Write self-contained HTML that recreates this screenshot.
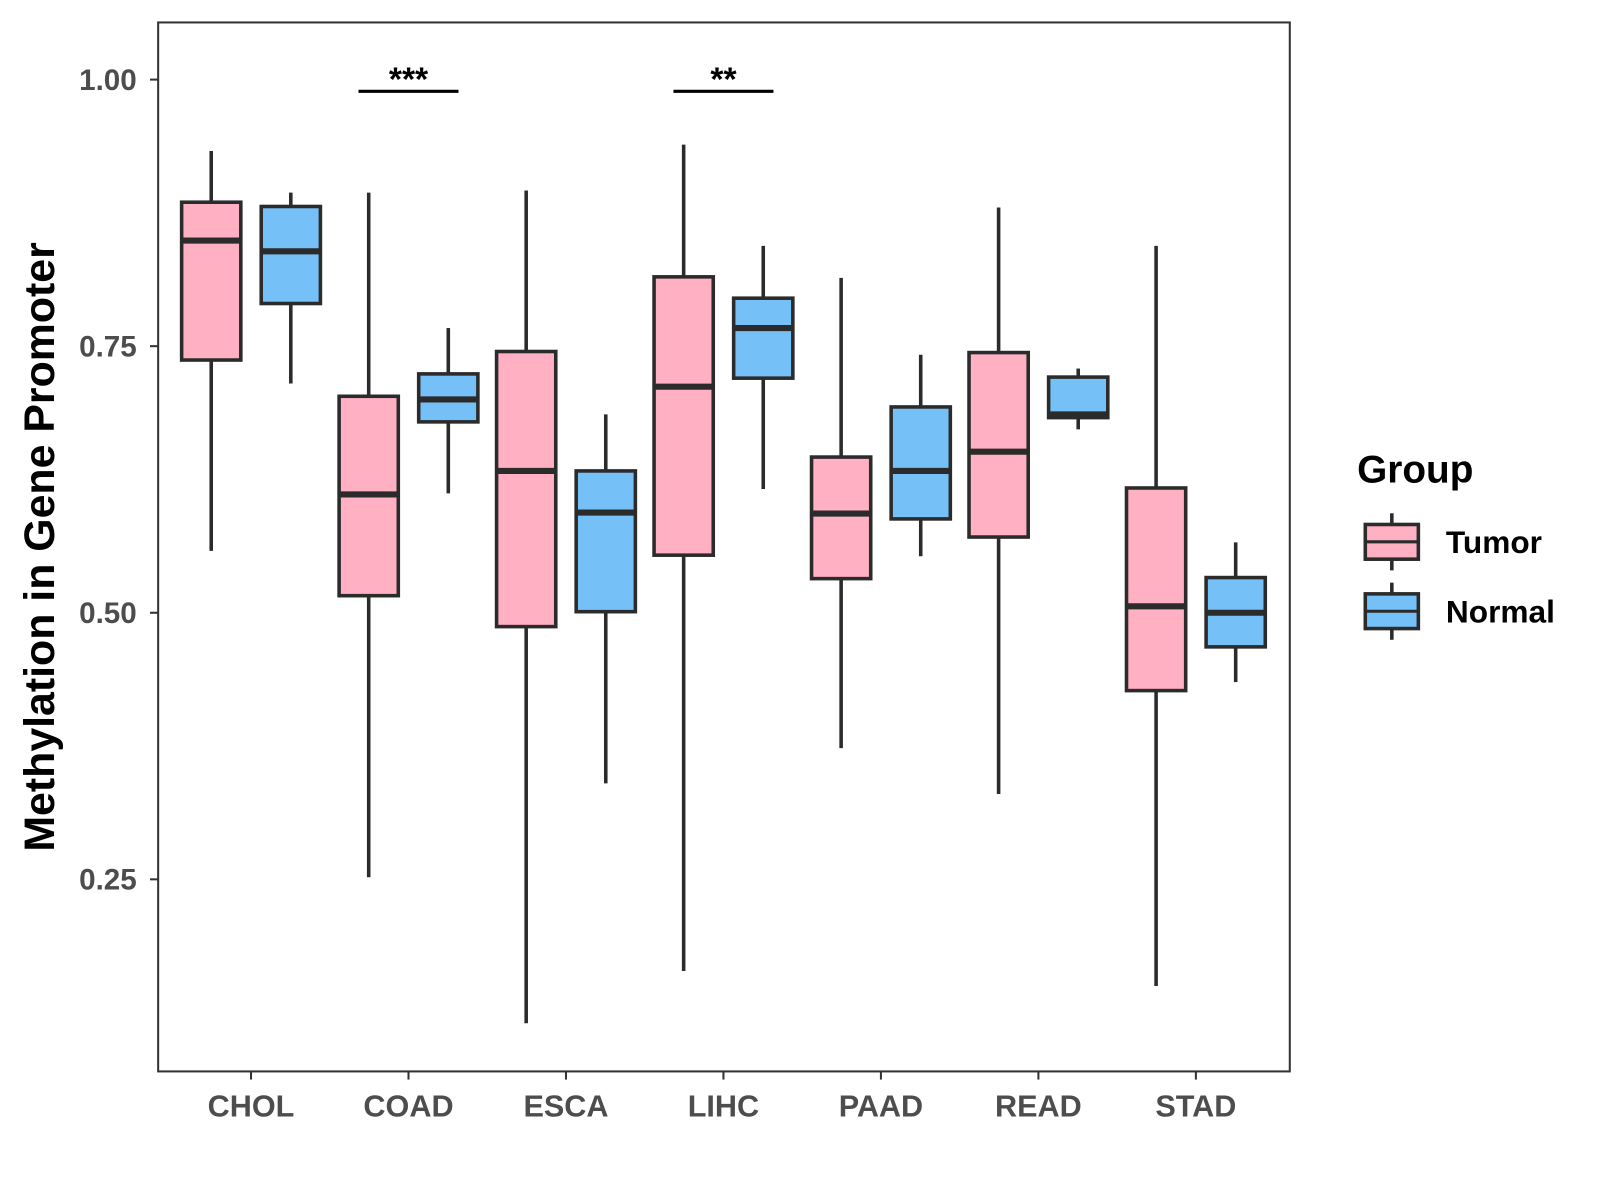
<!DOCTYPE html>
<html><head><meta charset="utf-8"><style>
html,body{margin:0;padding:0;background:#fff;width:1600px;height:1200px;overflow:hidden}
svg{display:block}
text{font-family:"Liberation Sans",Arial,sans-serif;font-weight:bold}
</style></head><body>
<svg id="chart" width="1600" height="1200"><g id="root" transform="scale(1.0204)"></g></svg>
<script>
const categories=["CHOL","COAD","ESCA","LIHC","PAAD","READ","STAD"];
const tumorLow=[0.558,0.252,0.115,0.164,0.373,0.330,0.150];
const tumorQ1=[0.737,0.516,0.487,0.554,0.532,0.571,0.427];
const tumorMed=[0.849,0.611,0.633,0.712,0.593,0.651,0.506];
const tumorQ3=[0.885,0.703,0.745,0.815,0.646,0.744,0.617];
const tumorHigh=[0.933,0.894,0.896,0.939,0.814,0.880,0.844];
const normalLow=[0.715,0.612,0.340,0.616,0.553,0.672,0.435];
const normalQ1=[0.790,0.679,0.501,0.720,0.588,0.683,0.468];
const normalMed=[0.839,0.700,0.594,0.767,0.633,0.686,0.500];
const normalQ3=[0.881,0.724,0.633,0.795,0.693,0.721,0.533];
const normalHigh=[0.894,0.767,0.686,0.844,0.742,0.729,0.566];
const yTicks=[0.25,0.5,0.75,1.0];
const yTickLabels=["0.25","0.50","0.75","1.00"];
const sigCats=["COAD","LIHC"];
const sigLabels=["***","**"];
const sigLevel=0.989;

const NS="http://www.w3.org/2000/svg";
const svg=document.getElementById('root');
const L=155,R=1264,T=22,B=1050;
const y=v=>78+(1-v)*1045;
const x=i=>246+i*154.33;
const BW=58,OFF=39;
function el(tag,attrs,parent){const e=document.createElementNS(NS,tag);for(const k in attrs)e.setAttribute(k,attrs[k]);(parent||svg).appendChild(e);return e;}

const panel=el('rect',{x:L,y:T,width:R-L,height:B-T,fill:'none',stroke:'#333','stroke-width':2});



yTicks.forEach((t,i)=>{
  const tk=el('line',{x1:L-8,x2:L,y1:y(t),y2:y(t),stroke:'#333','stroke-width':2});
  
  
  const lb=el('text',{x:L-21,y:y(t)+10,'text-anchor':'end','font-size':29,fill:'#4d4d4d'});
  lb.textContent=yTickLabels[i];
  
  
});
categories.forEach((c,i)=>{
  const tk=el('line',{x1:x(i),x2:x(i),y1:B,y2:B+8,stroke:'#333','stroke-width':2});
  
  
  const lb=el('text',{x:x(i),y:B+44,'text-anchor':'middle','font-size':30,fill:'#4d4d4d'});
  lb.textContent=c;
  
  
});

function box(cx,lo,q1,md,q3,hi,fill,name){
  const g=el('g',{});
  
  
  el('line',{x1:cx,x2:cx,y1:y(hi),y2:y(q3),stroke:'#2b2b2b','stroke-width':3.5},g);
  el('line',{x1:cx,x2:cx,y1:y(q1),y2:y(lo),stroke:'#2b2b2b','stroke-width':3.5},g);
  el('rect',{x:cx-BW/2,y:y(q3),width:BW,height:y(q1)-y(q3),fill:fill,stroke:'#2b2b2b','stroke-width':3.5},g);
  el('line',{x1:cx-BW/2,x2:cx+BW/2,y1:y(md),y2:y(md),stroke:'#2b2b2b','stroke-width':6},g);
}
categories.forEach((c,i)=>{
  box(x(i)-OFF,tumorLow[i],tumorQ1[i],tumorMed[i],tumorQ3[i],tumorHigh[i],'#FFB0C3','box-tumor-'+c.toLowerCase());
  box(x(i)+OFF,normalLow[i],normalQ1[i],normalMed[i],normalQ3[i],normalHigh[i],'#75C1F7','box-normal-'+c.toLowerCase());
});
sigCats.forEach((c,k)=>{
  const i=categories.indexOf(c);
  const ln=el('line',{x1:x(i)-49,x2:x(i)+49,y1:y(sigLevel),y2:y(sigLevel),stroke:'#000','stroke-width':3});
  
  
  const t=el('text',{x:x(i),y:y(sigLevel)-1,'text-anchor':'middle','font-size':33,fill:'#000'});
  t.textContent=sigLabels[k];
  
  
});
const yt=el('text',{x:0,y:0,'text-anchor':'middle','font-size':42,fill:'#000',transform:'translate(53,536) rotate(-90)'});
yt.textContent='Methylation in Gene Promoter';



const lg=el('g',{});


const lt=el('text',{x:1330,y:473,'font-size':38,fill:'#000'},lg);
lt.textContent='Group';
[['Tumor','#FFB0C3',531],['Normal','#75C1F7',599]].forEach(([n,f,cy])=>{
  const g=el('g',{},lg);
  
  
  el('line',{x1:1364,x2:1364,y1:cy-28,y2:cy+28,stroke:'#2b2b2b','stroke-width':3.5},g);
  el('rect',{x:1338,y:cy-17,width:52,height:34,fill:f,stroke:'#2b2b2b','stroke-width':3.5},g);
  el('line',{x1:1338,x2:1390,y1:cy,y2:cy,stroke:'#2b2b2b','stroke-width':3},g);
  const t=el('text',{x:1417,y:cy+11,'font-size':31,fill:'#000'},g);
  t.textContent=n;
});
</script>
</body></html>
